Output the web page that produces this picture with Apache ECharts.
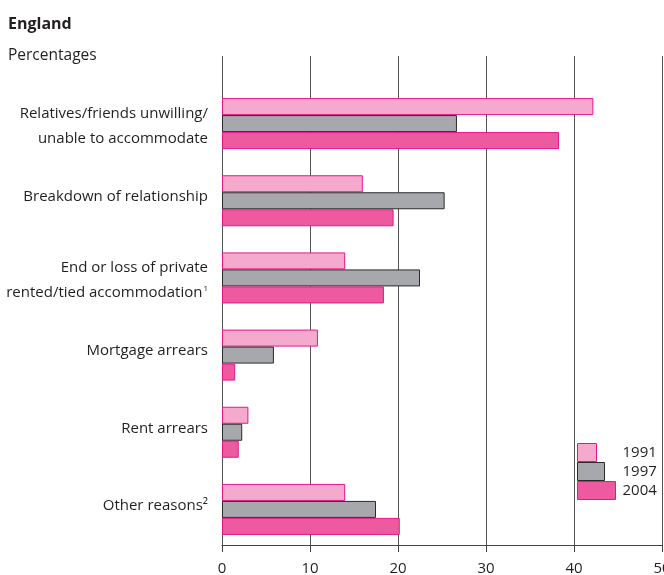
<!DOCTYPE html>
<html>
<head>
<meta charset="utf-8">
<script src="https://cdn.jsdelivr.net/npm/echarts@6/dist/echarts.min.js"></script>
<style>
  html, body { margin: 0; padding: 0; background: #fff; }
  #chart { width: 664px; height: 575px; }
</style>
</head>
<body>
<div id="chart"></div>
<script>
const categories = [
    'Relatives/friends unwilling/\nunable to accommodate',
    'Breakdown of relationship',
    'End or loss of private\nrented/tied accommodation¹',
    'Mortgage arrears',
    'Rent arrears',
    'Other reasons²'
];
const years = ['1991', '1997', '2004'];
const values1991 = [42.2, 16.0, 14.0, 10.9, 3.0, 14.0];
const values1997 = [26.7, 25.3, 22.5, 5.9, 2.3, 17.5];
const values2004 = [38.3, 19.5, 18.4, 1.5, 1.9, 20.2];
const xTicks = [0, 10, 20, 30, 40, 50];

const fontFamily = '"Open Sans", "Noto Sans", sans-serif';
const textColor = '#231f20';

const styles = [
    {color: '#f5aacd', borderColor: '#e5168a', borderWidth: 1},
    {color: '#a7a8ab', borderColor: '#2b2b2b', borderWidth: 1},
    {color: '#ee5a9f', borderColor: '#e5168a', borderWidth: 1}
];
const seriesValues = [values1991, values1997, values2004];

const chart = echarts.init(document.getElementById('chart'), null, {renderer: 'canvas'});

const legendWidths = [19, 27, 38];
const legendTops = [443, 462, 481];

// two-line labels get a separate small footnote mark; one-line labels sit a bit higher
function formatCategory(value) {
    const lines = value.split('\n');
    if (lines.length === 1) {
        return `{s|${value}}`;
    }
    return lines.map(line => {
        const m = line.match(/^(.*?)([¹²])$/);
        if (m) {
            const mark = m[2] === '¹' ? '1' : '2';
            return `{m|${m[1]}}{msup|${mark}}`;
        }
        return `{m|${line}}`;
    }).join('\n');
}

const option = {
    backgroundColor: '#fff',
    animation: false,
    title: [
        {text: 'England', left: 8, top: 16, padding: 0,
            textStyle: {fontFamily, fontSize: 16, fontWeight: 'bold', color: textColor}},
        {text: 'Percentages', left: 8, top: 48, padding: 0,
            textStyle: {fontFamily, fontSize: 15.5, fontWeight: 'normal', color: textColor}}
    ],
    legend: years.map((y, i) => ({
        data: [y],
        orient: 'vertical',
        left: 577,
        top: legendTops[i],
        itemWidth: legendWidths[i],
        itemHeight: 18,
        padding: 0,
        selectedMode: false,
        icon: 'rect',
        itemStyle: {borderWidth: 1},
        textStyle: {
            fontFamily, fontSize: 15, color: textColor,
            padding: [0, 0, 0, 40 - legendWidths[i]]
        }
    })),
    grid: [
        {left: 222, right: 2, top: 56, bottom: 30, outerBoundsMode: 'none', containLabel: false},
        {left: 222, right: 2, top: 85, bottom: 27, outerBoundsMode: 'none', containLabel: false}
    ],
    xAxis: [
        {
            gridIndex: 0, type: 'value', min: xTicks[0], max: xTicks[xTicks.length - 1], interval: 10,
            axisLine: {show: true, lineStyle: {color: '#444', width: 1}},
            axisTick: {show: true, length: 7, lineStyle: {color: '#444'}},
            axisLabel: {fontFamily, fontSize: 15, color: textColor, margin: 16},
            splitLine: {show: true, lineStyle: {color: '#555', width: 1}}
        },
        {
            gridIndex: 1, type: 'value', min: 0, max: 50, show: false,
            splitLine: {show: false}
        }
    ],
    yAxis: [
        {gridIndex: 0, type: 'value', show: false},
        {
            gridIndex: 1, type: 'category', data: categories, inverse: true,
            axisLine: {show: false}, axisTick: {show: false},
            axisLabel: {
                fontFamily, fontSize: 15, color: textColor, margin: 14,
                align: 'right',
                formatter: formatCategory,
                rich: {
                    m: {fontFamily, fontSize: 15, color: textColor, lineHeight: 25, padding: [5, 0, 0, 0]},
                    msup: {fontFamily, fontSize: 8, color: textColor, lineHeight: 25, verticalAlign: 'top', padding: [7, 0, 0, 1]},
                    s: {fontFamily, fontSize: 15, color: textColor, lineHeight: 20, padding: [0, 0, 8, 0]}
                }
            }
        }
    ],
    series: years.map((y, i) => ({
        name: y,
        type: 'bar',
        xAxisIndex: 1,
        yAxisIndex: 1,
        data: seriesValues[i],
        barWidth: 17,
        barGap: '0%',
        itemStyle: styles[i]
    }))
};

chart.setOption(option);
</script>
</body>
</html>
